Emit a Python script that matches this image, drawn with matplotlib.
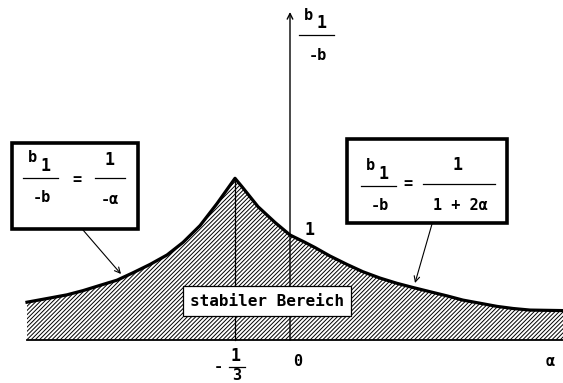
import numpy as np
import matplotlib.pyplot as plt
from matplotlib.patches import Rectangle

plt.rcParams['font.family'] = ['DejaVu Sans Mono', 'DejaVu Sans']
plt.rcParams['font.weight'] = 'bold'
plt.rcParams['hatch.linewidth'] = 0.7

# curve b1/(-b) over alpha (value 1 at alpha = 0)
alpha = [-1.594, -1.455, -1.352, -1.255, -1.152, -1.048, -0.952, -0.848,
         -0.745, -0.648, -0.545, -0.442, -1/3,
         -0.291, -0.194, -0.091, 0.0, 0.091, 0.152, 0.242, 0.345, 0.442,
         0.545, 0.648, 0.745, 0.848, 0.952, 1.048, 1.152, 1.255, 1.352,
         1.455, 1.655]
ratio = [0.36, 0.40, 0.43, 0.47, 0.52, 0.57, 0.64, 0.72,
         0.81, 0.93, 1.09, 1.30, 1.54,
         1.46, 1.27, 1.12, 1.0, 0.93, 0.88, 0.80, 0.72, 0.65,
         0.59, 0.54, 0.50, 0.46, 0.42, 0.38, 0.35, 0.32, 0.30,
         0.285, 0.28]
peak_alpha = -1/3
peak_ratio = 1.54


def P(xp, yp):
	# pixel position of the sketch -> data coords
	return ((xp - 290) / 165.0, (340 - yp) / 105.0)


fig = plt.figure(figsize=(5.63, 3.83), dpi=100)
ax = fig.add_axes([0, 0, 1, 1])
ax.set_xlim(P(0, 0)[0], P(563, 0)[0])
ax.set_ylim(P(0, 383)[1], P(0, 0)[1])
ax.axis('off')

# hatched stable region
ax.fill_between(alpha, 0, ratio, facecolor='white', edgecolor='black',
                hatch='////////', linewidth=0)
ax.plot(alpha, ratio, color='black', lw=2.3, solid_joinstyle='round')
ax.plot([alpha[0], P(563, 0)[0]], [0, 0], color='black', lw=1.3)

# axes
ax.annotate('', xy=P(290, 12), xytext=(0, 0),
            arrowprops=dict(arrowstyle='->', lw=1, color='black',
                            shrinkA=0, shrinkB=0))
ax.plot([peak_alpha, peak_alpha], [0, peak_ratio], color='black', lw=0.9)

fs = 11


def frac_b(cx, cy):
	# "b 1 / -b" block, cx, cy = pixel centre of the fraction bar
	ax.text(*P(cx - 9, cy - 20), 'b', fontsize=fs, ha='center', va='center', zorder=4)
	ax.text(*P(cx + 5, cy - 12), '1', fontsize=fs + 1, ha='center', va='center', zorder=4)
	ax.plot(*zip(P(cx - 18, cy), P(cx + 17, cy)), color='black', lw=0.9, zorder=4)
	ax.text(*P(cx + 1, cy + 20), '-b', fontsize=fs, ha='center', va='center', zorder=4)


# y label
frac_b(317, 35)

# left box
ax.add_patch(Rectangle(P(12, 229), (138 - 12) / 165.0, (229 - 143) / 105.0,
                       facecolor='white', edgecolor='black', lw=2.6, zorder=3))
frac_b(41, 178)
ax.text(*P(77, 179), '=', fontsize=fs, ha='center', va='center', zorder=4)
ax.text(*P(110, 160), '1', fontsize=fs + 1, ha='center', va='center', zorder=4)
ax.plot(*zip(P(95, 178), P(125, 178)), color='black', lw=0.9, zorder=4)
ax.text(*P(110, 200), '-α', fontsize=fs, ha='center', va='center', zorder=4)

# right box
ax.add_patch(Rectangle(P(347, 223), (507 - 347) / 165.0, (223 - 139) / 105.0,
                       facecolor='white', edgecolor='black', lw=2.6, zorder=3))
frac_b(379, 186)
ax.text(*P(408, 184), '=', fontsize=fs, ha='center', va='center', zorder=4)
ax.text(*P(458, 165), '1', fontsize=fs + 1, ha='center', va='center', zorder=4)
ax.plot(*zip(P(423, 184), P(495, 184)), color='black', lw=0.9, zorder=4)
ax.text(*P(460, 205), '1 + 2α', fontsize=fs, ha='center', va='center', zorder=4)

# pointers
ax.annotate('', xy=P(121, 274), xytext=P(83, 230),
            arrowprops=dict(arrowstyle='->', lw=0.8, color='black',
                            shrinkA=0, shrinkB=0))
ax.annotate('', xy=P(415, 283), xytext=P(432, 224),
            arrowprops=dict(arrowstyle='->', lw=0.8, color='black',
                            shrinkA=0, shrinkB=0))

ax.text(*P(267, 301), 'stabiler Bereich', fontsize=fs + 0.5, ha='center',
        va='center', zorder=5,
        bbox=dict(boxstyle='square,pad=0.45', facecolor='white',
                  edgecolor='black', lw=0.9))

# tick labels
ax.text(*P(310, 230), '1', fontsize=fs + 1, ha='center', va='center')
ax.text(*P(298, 362), '0', fontsize=fs, ha='center', va='center')
ax.text(*P(550, 362), 'α', fontsize=fs, ha='center', va='center')
ax.text(*P(218, 367), '-', fontsize=fs, ha='center', va='center')
ax.text(*P(236, 356), '1', fontsize=fs + 1, ha='center', va='center')
ax.plot(*zip(P(229, 367), P(245, 367)), color='black', lw=0.9)
ax.text(*P(237, 376), '3', fontsize=fs, ha='center', va='center')

fig.savefig('out.png', dpi=100)
